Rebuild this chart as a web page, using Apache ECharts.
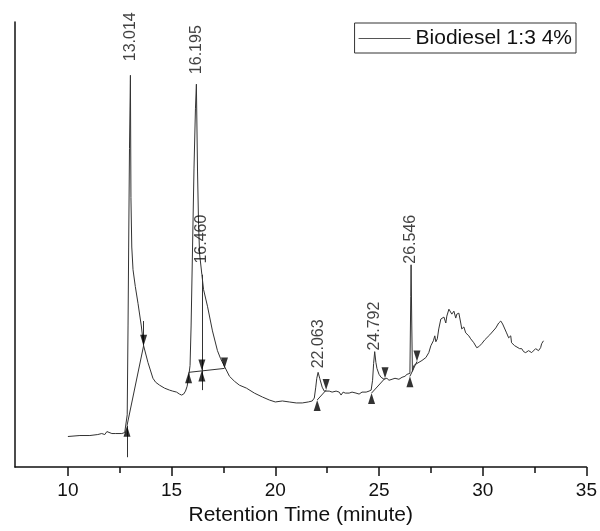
<!DOCTYPE html>
<html>
<head>
<meta charset="utf-8">
<script src="https://cdn.jsdelivr.net/npm/echarts@6/dist/echarts.min.js"></script>
<style>
html,body{margin:0;padding:0;background:#fff;}
#chart{width:600px;height:531px;}
</style>
</head>
<body>
<div id="chart"></div>
<script>
// ---- DATA ----
const seriesName = 'Biodiesel 1:3 4%';
const times = [10.00,10.58,11.06,11.44,11.63,11.78,11.88,11.97,12.12,12.31,12.60,12.74,12.81,12.86,12.90,12.93,12.97,13.014,
13.04,13.08,13.14,13.25,13.38,13.54,13.65,13.86,14.10,14.23,14.42,14.66,14.90,15.05,15.14,15.24,15.38,15.48,15.58,15.67,15.75,15.82,15.89,15.94,16.01,16.08,16.15,16.195,
16.25,16.30,16.35,16.46,16.54,16.73,16.97,17.21,17.36,17.55,17.79,18.03,18.27,18.61,18.99,19.38,19.71,20.00,20.34,20.67,21.01,21.30,21.59,21.78,21.88,21.95,22.00,22.063,
22.14,22.26,22.36,22.45,22.60,22.74,22.93,23.08,23.17,23.27,23.37,23.56,23.70,23.89,24.04,24.18,24.38,24.52,24.62,24.69,24.74,24.792,24.85,24.90,25.00,25.10,25.24,25.38,25.48,25.63,25.77,25.96,26.11,26.25,26.35,26.44,26.49,26.53,26.546,
26.58,26.61,26.68,26.83,26.92,27.07,27.16,27.26,27.40,27.50,27.55,27.62,27.69,27.74,27.81,27.88,27.98,28.03,28.13,28.22,28.27,28.37,28.46,28.51,28.61,28.70,28.75,28.85,28.94,28.99,29.09,29.18,29.33,29.42,29.57,29.71,29.81,29.95,
30.10,30.19,30.34,30.43,30.63,30.77,30.87,30.96,31.01,31.15,31.25,31.35,31.39,31.54,31.63,31.78,31.88,31.97,32.07,32.21,32.36,32.45,32.55,32.69,32.79,32.84,32.93];
const signal = [31,32,32,33,34,33,36,35,34,34,34,35,34,53,143,223,323,397,
273,223,200,183,166,143,123,106,90,86,83,80,78,77,79,76,74,73,74,77,82,91,103,143,223,303,363,388,
300,246,216,195,180,163,138,118,110,102,92,87,83,80,75,71,68,66,67,66,65,65,66,67,70,81,90,96,
90,81,77,78,77,76,77,76,73,76,75,75,76,75,74,76,76,77,78,88,105,117,106,100,94,91,89,90,88,89,90,89,91,92,94,93,95,173,205,
143,97,103,105,106,108,110,111,116,123,121,128,133,127,130,140,150,148,152,146,153,160,161,155,158,151,155,156,146,140,142,136,133,130,126,121,122,125,
129,131,134,136,141,146,148,145,143,136,131,133,126,123,121,120,120,117,116,118,116,118,120,118,121,125,128];

const peakTimes = [13.014, 16.195, 16.460, 22.063, 24.792, 26.546];
const peakHeights = [397, 388, 195, 96, 117, 205];

// integration baselines: start and end points [time, signal]
const baseStarts = [[12.85,42],[15.82,96],[22.02,68],[24.64,75],[26.49,92]];
const baseEnds   = [[13.65,123],[17.55,100],[22.45,78],[25.29,90],[26.83,107]];
// drop lines [time, fromSignal, toSignal]
const dropLines = [[12.85,10,42],[13.65,123,148],[16.46,78,195]];
// split markers on the 16.195 / 16.460 drop line
const splitPoints = [[16.46,98]];

const xTickLabels = [10,15,20,25,30,35];
const xMinorTicks = [12.5,17.5,22.5,27.5,32.5];

// ---- STYLE ----
const FONT = '"Liberation Sans", Arial, sans-serif';
const labelGap = [14,10,0,5,3,3];
const labelDx  = [0,0,11,-1,-2,-2];

const curve = times.map((t,i)=>[t, signal[i]]);
const upMarks = baseStarts.concat(splitPoints);
const downMarks = baseEnds.concat(splitPoints);
const segs = baseStarts.map((s,i)=>({coords:[s, baseEnds[i]]}))
  .concat(dropLines.map(d=>({coords:[[d[0],d[1]],[d[0],d[2]]]})));

const chart = echarts.init(document.getElementById('chart'), null, {renderer:'canvas'});
chart.setOption({
  animation:false,
  backgroundColor:'#fff',
  grid:{left:15,right:12,top:22,bottom:58,containLabel:false},
  legend:{
    data:[{name:seriesName, icon:'rect', itemStyle:{color:'#555'}}], right:24, top:23, orient:'horizontal',
    borderColor:'#333', borderWidth:1, padding:[5,4,4,4],
    itemWidth:52, itemHeight:1,
    textStyle:{fontSize:21, fontFamily:FONT, color:'#111'}
  },
  xAxis:[{
    type:'value', min:7.45, max:35,
    name:'Retention Time (minute)', nameLocation:'middle', nameGap:36,
    nameTextStyle:{fontSize:21, fontFamily:FONT, color:'#111'},
    axisLine:{show:true, onZero:false, lineStyle:{color:'#111', width:1.5}},
    axisTick:{show:true, inside:false, length:9, customValues:xTickLabels, lineStyle:{color:'#111', width:1.5}},
    axisLabel:{show:true, margin:14, fontSize:19, fontFamily:FONT, color:'#111', customValues:xTickLabels},
    splitLine:{show:false}
  },{
    type:'value', min:7.45, max:35, position:'bottom', offset:0,
    axisLine:{show:false, onZero:false},
    axisTick:{show:true, inside:false, length:6, customValues:xMinorTicks, lineStyle:{color:'#111', width:1.5}},
    axisLabel:{show:false},
    splitLine:{show:false}
  }],
  yAxis:{
    type:'value', min:0, max:451,
    axisLine:{show:true, onZero:false, lineStyle:{color:'#111', width:1.5}},
    axisTick:{show:false}, axisLabel:{show:false}, splitLine:{show:false}
  },
  series:[{
    name:seriesName, type:'line', data:curve, symbol:'none', showSymbol:false,
    lineStyle:{color:'#333', width:1}, itemStyle:{color:'#333'}, z:3
  },{
    name:'baselines', type:'lines', coordinateSystem:'cartesian2d', data:segs,
    lineStyle:{color:'#333', width:1, opacity:1}, symbol:['none','none'], z:2
  },{
    name:'start', type:'scatter', data:upMarks, symbol:'triangle', symbolSize:[7,11],
    symbolOffset:[0,5.5], itemStyle:{color:'#000'}, z:4
  },{
    name:'end', type:'scatter', data:downMarks, symbol:'triangle', symbolSize:[7,11],
    symbolRotate:180, symbolOffset:[0,-5.5], itemStyle:{color:'#000'}, z:4
  },{
    name:'peaks', type:'scatter', symbolSize:0.1, itemStyle:{color:'rgba(0,0,0,0)'},
    data:peakTimes.map((t,i)=>({value:[t, peakHeights[i]],
      label:{distance:labelGap[i], offset:[labelDx[i],0]}})),
    label:{show:true, position:'top', rotate:90, align:'left', verticalAlign:'middle',
      fontSize:16, fontFamily:FONT, color:'#111',
      formatter:p=>p.value[0].toFixed(3)},
    z:5
  }]
});
</script>
</body>
</html>
